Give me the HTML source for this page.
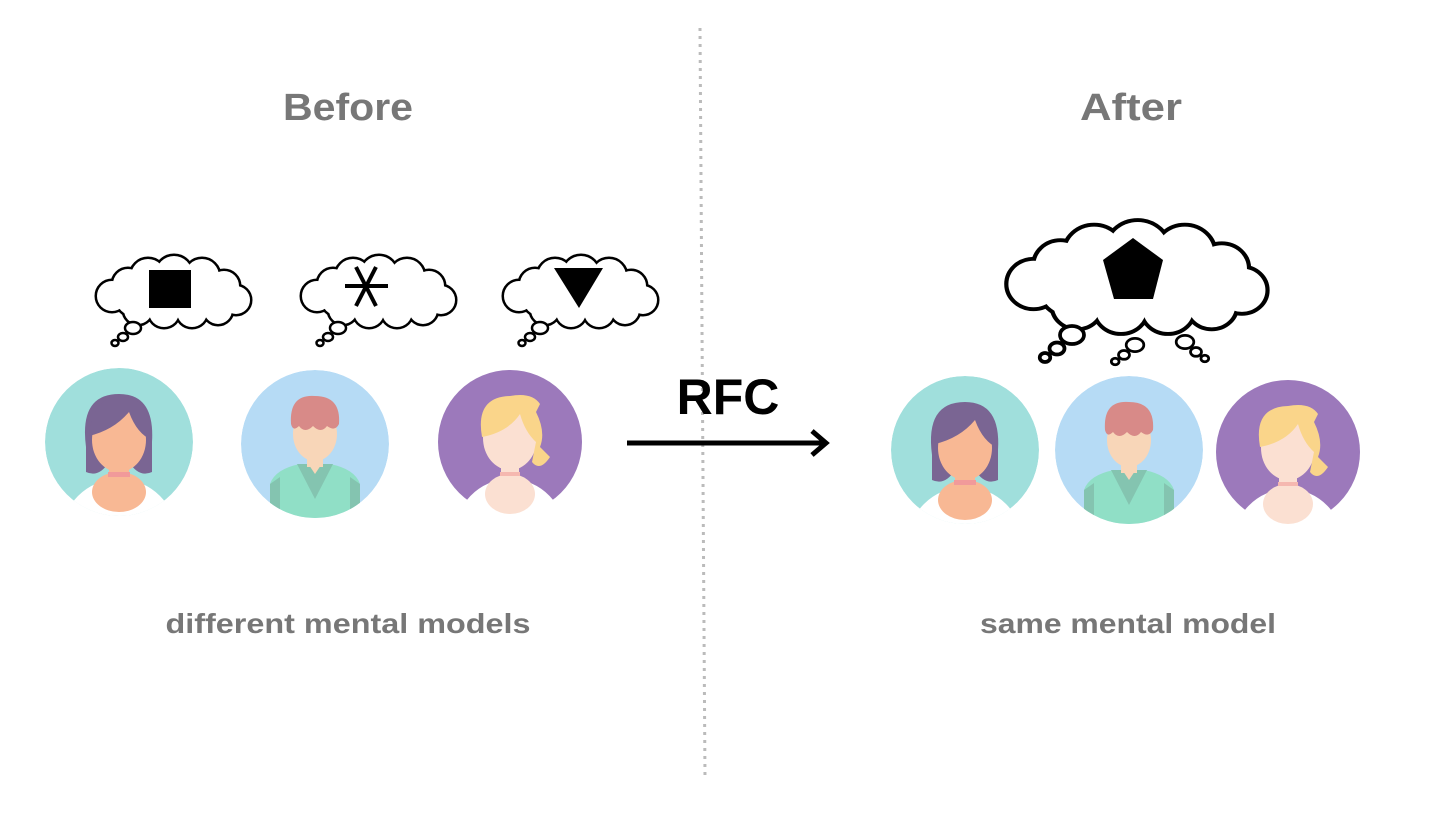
<!DOCTYPE html>
<html><head><meta charset="utf-8"><style>
html,body{margin:0;padding:0;background:#fff;}
svg{display:block;}
text{font-family:"Liberation Sans",sans-serif;font-weight:bold;}
</style></head><body>
<svg width="1456" height="819" viewBox="0 0 1456 819" xmlns="http://www.w3.org/2000/svg">
<defs>
<g id="cloudS">
 <circle cx="20" cy="40" r="15"/><circle cx="36" cy="28" r="15"/><circle cx="56" cy="20" r="17"/><circle cx="82" cy="18" r="18"/><circle cx="110" cy="20" r="17"/><circle cx="132" cy="30" r="15"/>
 <circle cx="144" cy="44" r="14"/><circle cx="126" cy="54" r="14"/><circle cx="100" cy="56" r="15"/><circle cx="72" cy="56" r="15"/><circle cx="46" cy="54" r="14"/>
 <circle cx="42" cy="42" r="18"/><circle cx="100" cy="38" r="24"/><circle cx="68" cy="38" r="24"/><circle cx="124" cy="40" r="16"/>
</g>
<g id="cloud">
 <use href="#cloudS" fill="#000" stroke="#000" stroke-width="5"/>
 <use href="#cloudS" fill="#fff"/>
</g>
<g id="bub">
 <ellipse cx="0" cy="0" rx="8" ry="6" fill="#fff" stroke="#000" stroke-width="2.5"/>
 <ellipse cx="-10" cy="9" rx="5" ry="4" fill="#fff" stroke="#000" stroke-width="2.5"/>
 <ellipse cx="-18" cy="15" rx="3.5" ry="3" fill="#fff" stroke="#000" stroke-width="2.5"/>
</g>
<clipPath id="cc"><circle cx="0" cy="0" r="74"/></clipPath>
<g id="woman">
 <g clip-path="url(#cc)">
  <circle r="74" fill="#a0dfdc"/>
  <ellipse cx="0" cy="95" rx="58" ry="58" fill="#fff"/>
  <rect x="-10" y="15" width="20" height="28" fill="#f8b894"/>
  <ellipse cx="0" cy="50" rx="27" ry="20" fill="#f8b894"/>
  <rect x="-11" y="30" width="22" height="5" fill="#f19a9a"/>
 </g>
 <path d="M-33 5 Q-40 -48 0 -48 Q36 -48 33 0 L33 30 Q20 36 10 20 L-10 20 Q-20 36 -33 30 Z" fill="#7a6593"/>
 <ellipse cx="0" cy="-2" rx="27" ry="32" fill="#f8b894"/>
 <path d="M-30 -6 Q-26 -48 5 -45 Q34 -42 33 -2 Q18 -8 10 -30 Q-5 -12 -30 -6Z" fill="#7a6593"/>
</g>
<g id="man">
 <g clip-path="url(#cc)">
  <circle r="74" fill="#b6dbf5"/>
  <path d="M-45 90 L-45 40 Q-40 25 -15 20 L15 20 Q40 25 45 40 L45 90Z" fill="#90dfc6"/>
  <path d="M-45 90 L-45 40 L-35 33 L-35 90Z M45 90 L45 40 L35 33 L35 90Z" fill="#84c4b0"/>
  <path d="M-18 20 L0 55 L18 20Z" fill="#84c4b0"/>
 </g>
 <rect x="-8" y="5" width="16" height="18" fill="#f8d6b8"/>
 <path d="M-8 18 L0 30 L8 18Z" fill="#f8d6b8"/>
 <ellipse cx="0" cy="-10" rx="22" ry="27" fill="#f8d6b8"/>
 <path d="M-24 -20 Q-26 -50 0 -48 Q26 -48 24 -20 Q20 -12 12 -18 Q6 -10 -2 -18 Q-10 -10 -16 -18 Q-22 -12 -24 -20Z" fill="#d88a88"/>
</g>
<g id="blond">
 <g clip-path="url(#cc)">
  <circle r="72" fill="#9c79bb"/>
  <ellipse cx="0" cy="95" rx="56" ry="58" fill="#fff"/>
  <rect x="-9" y="15" width="18" height="30" fill="#fbe0d2"/>
  <ellipse cx="0" cy="52" rx="25" ry="20" fill="#fbe0d2"/>
  <rect x="-10" y="30" width="20" height="4" fill="#f5b8b0"/>
 </g>
 <ellipse cx="0" cy="-4" rx="27" ry="32" fill="#fbe0d2"/>
 <path d="M-28 -5 Q-35 -45 0 -46 Q22 -50 30 -38 L26 -30 Q36 -10 30 5 L40 15 Q30 30 22 20 L26 0 Q15 -10 10 -28 Q-2 -10 -28 -5Z" fill="#fad58a"/>
</g>
</defs>

<line x1="700" y1="28" x2="705" y2="778" stroke="#bbb" stroke-width="3" stroke-dasharray="3 5"/>

<text x="348" y="120" font-size="38" fill="#777" text-anchor="middle" textLength="130" lengthAdjust="spacingAndGlyphs">Before</text>
<text x="1131" y="120" font-size="38" fill="#777" text-anchor="middle" textLength="102" lengthAdjust="spacingAndGlyphs">After</text>

<use href="#cloud" x="92" y="256"/>
<use href="#bub" x="133" y="328"/>
<rect x="149" y="270" width="42" height="38" fill="#000"/>
<use href="#cloud" x="297" y="256"/>
<use href="#bub" x="338" y="328"/>
<g stroke="#000" stroke-width="4"><line x1="345" y1="286" x2="388" y2="286"/><line x1="356" y1="267" x2="376" y2="306"/><line x1="376" y1="267" x2="356" y2="306"/></g>
<use href="#cloud" x="499" y="256"/>
<use href="#bub" x="540" y="328"/>
<polygon points="554,268 603,268 579,308" fill="#000"/>

<g transform="translate(1000,222) scale(1.68,1.55)"><use href="#cloud"/></g>
<g transform="translate(1072,335) scale(1.5)"><use href="#bub"/></g>
<g transform="translate(1135,345) scale(1.1)"><use href="#bub"/></g>
<g transform="translate(1185,342) scale(1.1,1.1) scale(-1,1)"><use href="#bub"/></g>
<polygon points="1133,238 1163,260 1153,299 1114,299 1103,260" fill="#000"/>

<use href="#woman" x="119" y="442"/>
<use href="#man" x="315" y="444"/>
<use href="#blond" x="510" y="442"/>
<use href="#woman" x="965" y="450"/>
<use href="#man" x="1129" y="450"/>
<use href="#blond" x="1288" y="452"/>

<text x="728" y="414" font-size="50" fill="#000" text-anchor="middle">RFC</text>
<line x1="627" y1="443" x2="824" y2="443" stroke="#000" stroke-width="5"/>
<polyline points="812,431 826,443 812,455" fill="none" stroke="#000" stroke-width="5"/>

<text x="348" y="633" font-size="28" fill="#777" text-anchor="middle" textLength="365" lengthAdjust="spacingAndGlyphs">different mental models</text>
<text x="1128" y="633" font-size="28" fill="#777" text-anchor="middle" textLength="296" lengthAdjust="spacingAndGlyphs">same mental model</text>
</svg>
</body></html>
